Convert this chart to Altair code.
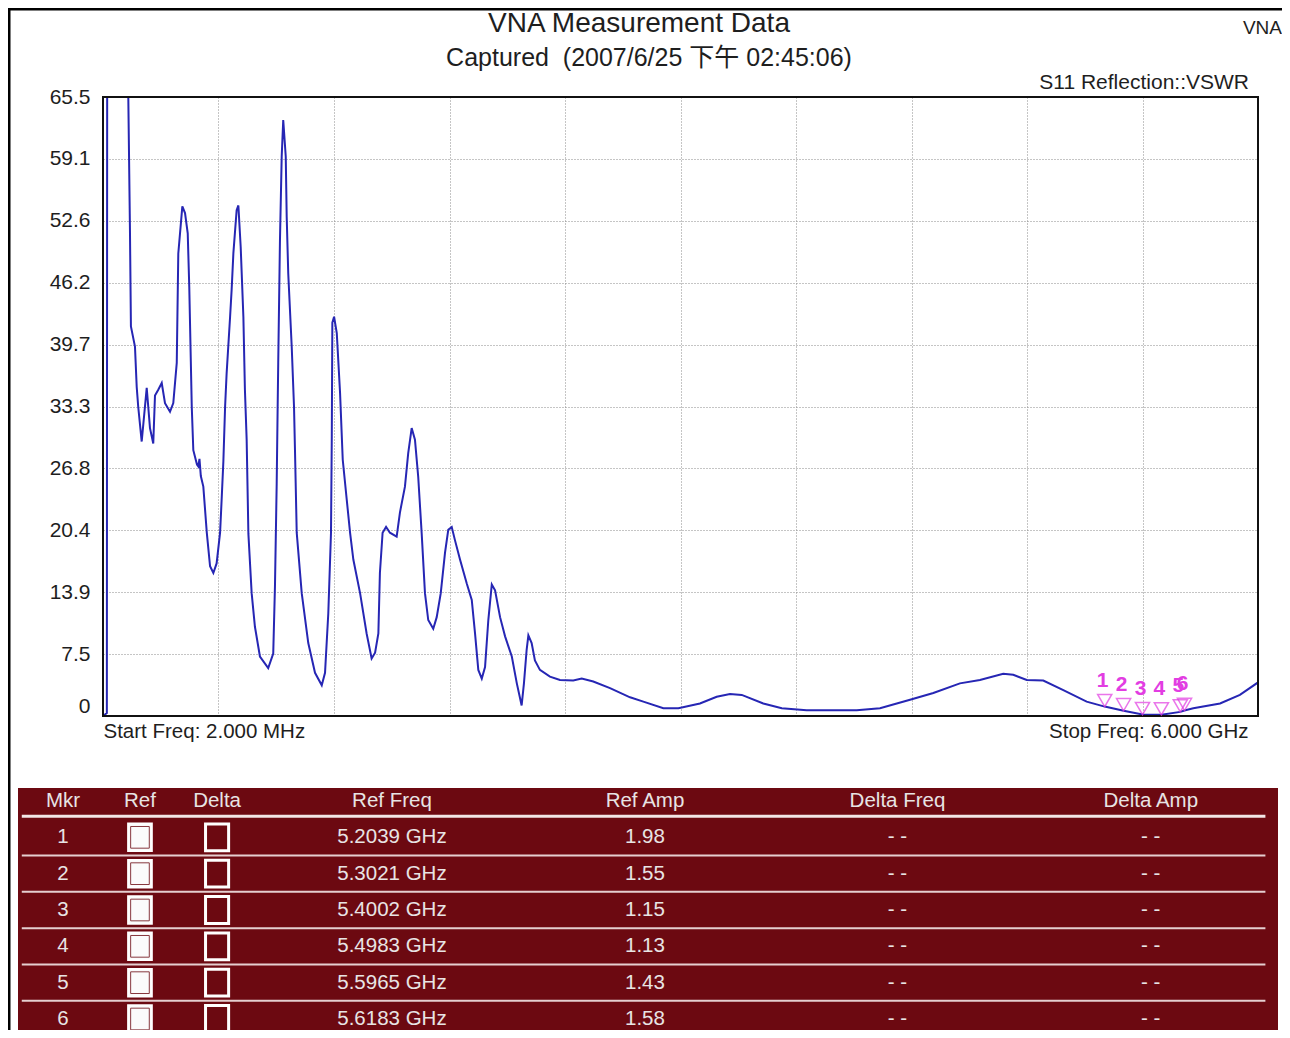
import json
import altair as alt
import pandas as pd

# ------------------------------------------------------------------ data
FREQ_GHZ = [
    0.002, 0.022, 0.024, 0.132, 0.1334, 0.142, 0.147, 0.168, 0.177, 0.185,
    0.203, 0.229, 0.246, 0.263, 0.272, 0.289, 0.307, 0.324, 0.350, 0.367,
    0.385, 0.393, 0.414, 0.428, 0.442, 0.450, 0.463, 0.471, 0.490, 0.497,
    0.503, 0.510, 0.523, 0.541, 0.558, 0.575, 0.592, 0.610, 0.618, 0.627,
    0.636, 0.644, 0.662, 0.670, 0.679, 0.696, 0.705, 0.717, 0.731, 0.739,
    0.748, 0.757, 0.774, 0.791, 0.817, 0.860, 0.886, 0.895, 0.904, 0.909,
    0.912, 0.921, 0.930, 0.938, 0.951, 0.956, 0.964, 0.982, 0.994, 0.999,
    1.008, 1.034, 1.068, 1.103, 1.138, 1.155, 1.172, 1.186, 1.190, 1.193,
    1.202, 1.216, 1.233, 1.247, 1.268, 1.285, 1.302, 1.337, 1.371, 1.397,
    1.415, 1.432, 1.440, 1.454, 1.472, 1.492, 1.527, 1.544, 1.570, 1.587,
    1.605, 1.622, 1.639, 1.657, 1.674, 1.691, 1.717, 1.735, 1.756, 1.778,
    1.795, 1.813, 1.830, 1.856, 1.891, 1.917, 1.934, 1.951, 1.969, 1.986,
    2.003, 2.021, 2.038, 2.064, 2.090, 2.125, 2.151, 2.176, 2.188, 2.202,
    2.211, 2.228, 2.245, 2.271, 2.323, 2.375, 2.444, 2.488, 2.548, 2.635,
    2.739, 2.808, 2.912, 2.990, 3.102, 3.189, 3.258, 3.319, 3.431, 3.527,
    3.656, 3.916, 4.037, 4.193, 4.314, 4.452, 4.556, 4.677, 4.729, 4.799,
    4.885, 4.989, 5.110, 5.2039, 5.3021, 5.4002, 5.4983, 5.5965, 5.6183, 5.664,
    5.803, 5.906, 6.000,
]
VSWR = [
    1.0, 1.3, 80.0, 80.0, 65.5, 51.6, 41.6, 39.5, 35.3, 33.2,
    29.6, 35.2, 31.0, 29.4, 34.4, 35.0, 35.7, 33.6, 32.7, 33.6,
    37.8, 49.2, 54.1, 53.4, 51.3, 45.7, 33.2, 28.7, 27.2, 27.0,
    27.8, 26.0, 24.9, 20.1, 16.6, 15.9, 16.9, 20.1, 23.5, 27.5,
    33.2, 36.7, 42.6, 45.4, 49.2, 53.7, 54.2, 49.9, 42.6, 35.0,
    29.8, 20.0, 13.8, 10.3, 7.2, 6.0, 7.5, 14.5, 25.2, 33.2,
    37.8, 50.6, 59.3, 63.1, 59.3, 53.0, 47.1, 39.5, 33.2, 28.7,
    20.1, 13.8, 8.6, 5.5, 4.2, 5.5, 11.7, 20.1, 29.8, 42.0,
    42.6, 40.9, 34.7, 27.7, 23.5, 20.1, 17.3, 13.8, 9.6, 7.0,
    7.6, 9.6, 15.9, 20.1, 20.7, 20.1, 19.7, 22.2, 24.9, 28.4,
    31.0, 29.8, 25.9, 20.0, 13.8, 11.0, 10.1, 11.3, 13.8, 18.0,
    20.4, 20.7, 19.3, 17.3, 14.8, 13.1, 9.6, 5.8, 4.9, 6.1,
    11.0, 14.7, 14.1, 11.3, 9.3, 7.2, 4.4, 2.1, 4.4, 7.9,
    9.4, 8.6, 6.8, 5.8, 5.1, 4.75, 4.7, 4.9, 4.6, 3.9,
    2.95, 2.5, 1.8, 1.8, 2.3, 3.0, 3.3, 3.2, 2.3, 1.8,
    1.6, 1.6, 1.8, 2.7, 3.4, 4.4, 4.75, 5.4, 5.3, 4.75,
    4.7, 3.7, 2.5, 1.98, 1.55, 1.15, 1.13, 1.43, 1.58, 1.8,
    2.3, 3.2, 4.5,
]

MARKER_ID = [1, 2, 3, 4, 5, 6]
MARKER_FREQ_GHZ = [5.2039, 5.3021, 5.4002, 5.4983, 5.5965, 5.6183]
MARKER_AMP = [1.98, 1.55, 1.15, 1.13, 1.43, 1.58]

START_GHZ = 0.002
STOP_GHZ = 6.0
VSWR_MIN = 1.0
VSWR_MAX = 65.5
N_DIV = 10
Y_TICK_LABELS = ["0", "7.5", "13.9", "20.4", "26.8", "33.3",
                 "39.7", "46.2", "52.6", "59.1", "65.5"]
START_LABEL = "Start Freq: 2.000 MHz"
STOP_LABEL = "Stop Freq: 6.000 GHz"

TABLE_HEADERS = ["Mkr", "Ref", "Delta", "Ref Freq", "Ref Amp", "Delta Freq", "Delta Amp"]
DELTA_TEXT = "- -"

TITLE = "VNA Measurement Data"
SUBTITLE = "Captured\u00a0 (2007/6/25 下午 02:45:06)"
TRACE_LABEL = "S11 Reflection::VSWR"
CORNER_LABEL = "VNA"

# ------------------------------------------------------------------ style / layout
FONT = "Liberation Sans, Arial, sans-serif"
CJK_FONT = "Liberation Sans, 'Noto Sans CJK TC', sans-serif"
TEXT = "#1e1e1e"
TRACE = "#2626b4"
MAGENTA = "#e23de2"
MAROON = "#6c0911"
TABLE_TEXT = "#e8e4e4"
TABLE_LINE = "#f3e6e6"
GRID = "#8a8a8a"

PLOT_W, PLOT_H = 1155, 619
PAD = {"left": 95, "top": 89, "right": 24, "bottom": 314}
COL_POS = [0.0357, 0.0968, 0.158, 0.2968, 0.4976, 0.698, 0.899]
TABLE_X_RANGE = [-85, 1175]
TABLE_Y_RANGE = [704, 922]

# ------------------------------------------------------------------ main plot
trace_df = pd.DataFrame({"f": FREQ_GHZ, "v": VSWR})
mk_df = pd.DataFrame({"id": MARKER_ID, "f": MARKER_FREQ_GHZ, "v": MARKER_AMP})

x_step = (STOP_GHZ - START_GHZ) / N_DIV
y_step = (VSWR_MAX - VSWR_MIN) / N_DIV
x_ticks = [round(START_GHZ + i * x_step, 6) for i in range(N_DIV + 1)]
y_ticks = [round(VSWR_MIN + i * y_step, 6) for i in range(N_DIV + 1)]

xs = alt.Scale(domain=[START_GHZ, STOP_GHZ], nice=False, zero=False)
ys = alt.Scale(domain=[VSWR_MIN, VSWR_MAX], nice=False, zero=False)

x_axis = alt.Axis(
    values=x_ticks,
    labelExpr=(f"datum.value <= {START_GHZ + 1e-6} ? '{START_LABEL}' : "
               f"(datum.value >= {STOP_GHZ - 1e-6} ? '{STOP_LABEL}' : '')"),
    labelFlush=True,
    labelOverlap=False,
    labelLimit=0,
    labelOffset={"condition": {"test": f"datum.value >= {STOP_GHZ - 1e-6}", "value": -10}, "value": 0},
    labelFont=FONT, labelFontSize=20.5, labelColor=TEXT, labelPadding=5,
    ticks=False, domain=False,
    grid=True, gridDash=[1, 2], gridColor=GRID, gridWidth=1,
    title=None,
)
y_axis = alt.Axis(
    values=y_ticks,
    labelExpr=f"{json.dumps(Y_TICK_LABELS)}[round((datum.value - {VSWR_MIN}) / {y_step})]",
    labelBaseline={"condition": {"test": f"datum.value < {VSWR_MIN + 0.5}", "value": "bottom"}, "value": "middle"},
    labelFont=FONT, labelFontSize=21, labelColor=TEXT, labelPadding=13,
    ticks=False, domain=False,
    grid=True, gridDash=[1, 2], gridColor=GRID, gridWidth=1,
    title=None,
)

trace = alt.Chart(trace_df).mark_line(color=TRACE, strokeWidth=2, clip=True).encode(
    x=alt.X("f:Q", scale=xs, axis=x_axis),
    y=alt.Y("v:Q", scale=ys, axis=y_axis),
    order=alt.Order("f:Q"),
)
border = alt.Chart(pd.DataFrame({"x0": [START_GHZ], "x1": [STOP_GHZ],
                                 "y0": [VSWR_MIN], "y1": [VSWR_MAX]})).mark_rect(
    filled=False, stroke="#111111", strokeWidth=2
).encode(x=alt.X("x0:Q", scale=xs), x2="x1:Q", y=alt.Y("y0:Q", scale=ys), y2="y1:Q")
marks = alt.Chart(mk_df).mark_point(
    shape="triangle-down", filled=False, size=200, color=MAGENTA, strokeWidth=1.5, yOffset=-6
).encode(x=alt.X("f:Q", scale=xs), y=alt.Y("v:Q", scale=ys))
mark_nums = alt.Chart(mk_df).mark_text(
    dy=-20, dx=-2, baseline="alphabetic", fontSize=21, fontWeight="bold", color=MAGENTA, font=FONT
).encode(x=alt.X("f:Q", scale=xs), y=alt.Y("v:Q", scale=ys), text="id:N")


def label(text, x, y, size, align="center", font=FONT):
    return alt.Chart(pd.DataFrame({"t": [text]})).mark_text(
        align=align, baseline="middle", fontSize=size, font=font, color=TEXT
    ).encode(x=alt.value(x), y=alt.value(y), text="t:N")


title_lbl = label(TITLE, 536, -73, 28)
subtitle_lbl = label(SUBTITLE, 546, -39, 25, font=CJK_FONT)
trace_lbl = label(TRACE_LABEL, 1146, -14, 21, align="right")
corner_lbl = label(CORNER_LABEL, 1179, -69, 19, align="right")

frame_top = alt.Chart(pd.DataFrame({"a": [0]})).mark_rule(color="black", strokeWidth=3).encode(
    x=alt.value(-96), x2=alt.value(1195), y=alt.value(-88)
)
frame_left = alt.Chart(pd.DataFrame({"a": [0]})).mark_rule(color="black", strokeWidth=3).encode(
    x=alt.value(-94), y=alt.value(-90), y2=alt.value(950)
)

main = alt.layer(trace, border, marks, mark_nums, title_lbl, subtitle_lbl, trace_lbl, corner_lbl,
                 frame_top, frame_left)

# ------------------------------------------------------------------ marker table
tx = alt.Scale(domain=[0, 1], range=TABLE_X_RANGE, nice=False, zero=False)
ty = alt.Scale(domain=[0, 6], range=TABLE_Y_RANGE, nice=False, zero=False)

bg = alt.Chart(pd.DataFrame({"x0": [0.0], "x1": [1.0], "y0": [-0.36], "y1": [6.47]})).mark_rect(
    color=MAROON
).encode(
    x=alt.X("x0:Q", scale=tx, axis=None), x2="x1:Q",
    y=alt.Y("y0:Q", scale=ty, axis=None), y2="y1:Q",
)
head_line = alt.Chart(pd.DataFrame({"x0": [0.003], "x1": [0.99], "y": [0.42]})).mark_rule(
    color=TABLE_LINE, strokeWidth=3
).encode(x=alt.X("x0:Q", scale=tx, axis=None), x2="x1:Q", y=alt.Y("y:Q", scale=ty, axis=None))
sep_lines = alt.Chart(pd.DataFrame({"x0": [0.003] * 5, "x1": [0.99] * 5,
                                    "y": [i + 0.5 for i in MARKER_ID[:-1]]})).mark_rule(
    color=TABLE_LINE, strokeWidth=2, opacity=0.9
).encode(x=alt.X("x0:Q", scale=tx, axis=None), x2="x1:Q", y=alt.Y("y:Q", scale=ty, axis=None))

cells = []
for c, h in enumerate(TABLE_HEADERS):
    cells.append({"x": COL_POS[c], "y": 0, "t": h})
for i, f, a in zip(MARKER_ID, MARKER_FREQ_GHZ, MARKER_AMP):
    cells.append({"x": COL_POS[0], "y": i, "t": str(i)})
    cells.append({"x": COL_POS[3], "y": i, "t": f"{f:.4f} GHz"})
    cells.append({"x": COL_POS[4], "y": i, "t": f"{a:.2f}"})
    cells.append({"x": COL_POS[5], "y": i, "t": DELTA_TEXT})
    cells.append({"x": COL_POS[6], "y": i, "t": DELTA_TEXT})
cell_text = alt.Chart(pd.DataFrame(cells)).mark_text(
    align="center", baseline="middle", fontSize=20.5, font=FONT, color=TABLE_TEXT
).encode(x=alt.X("x:Q", scale=tx, axis=None), y=alt.Y("y:Q", scale=ty, axis=None), text="t:N")

BOX = "M-0.86,-1H0.86V1H-0.86Z"
ref_df = pd.DataFrame({"x": [COL_POS[1]] * 6, "y": MARKER_ID})
delta_df = pd.DataFrame({"x": [COL_POS[2]] * 6, "y": MARKER_ID})
ref_box = alt.Chart(ref_df).mark_point(
    shape=BOX, size=760, filled=True, fill="#fbfbfb", stroke="#ffffff", strokeWidth=2, opacity=1
).encode(x=alt.X("x:Q", scale=tx, axis=None), y=alt.Y("y:Q", scale=ty, axis=None))
ref_inner = alt.Chart(ref_df).mark_point(
    shape=BOX, size=470, filled=False, color=MAROON, strokeWidth=1, opacity=0.8
).encode(x=alt.X("x:Q", scale=tx, axis=None), y=alt.Y("y:Q", scale=ty, axis=None))
delta_box = alt.Chart(delta_df).mark_point(
    shape=BOX, size=720, filled=False, color="#ffffff", strokeWidth=3, opacity=1
).encode(x=alt.X("x:Q", scale=tx, axis=None), y=alt.Y("y:Q", scale=ty, axis=None))

table = alt.layer(bg, head_line, sep_lines, cell_text, ref_box, ref_inner, delta_box)

# ------------------------------------------------------------------ assemble
chart = alt.layer(main, table).resolve_scale(
    x="independent", y="independent"
).properties(
    width=PLOT_W,
    height=PLOT_H,
    padding=PAD,
    autosize=alt.AutoSizeParams(type="none"),
).configure_view(
    stroke=None
).configure(background="white")

chart.save("out.html", embed_options={"renderer": "svg", "actions": False})
